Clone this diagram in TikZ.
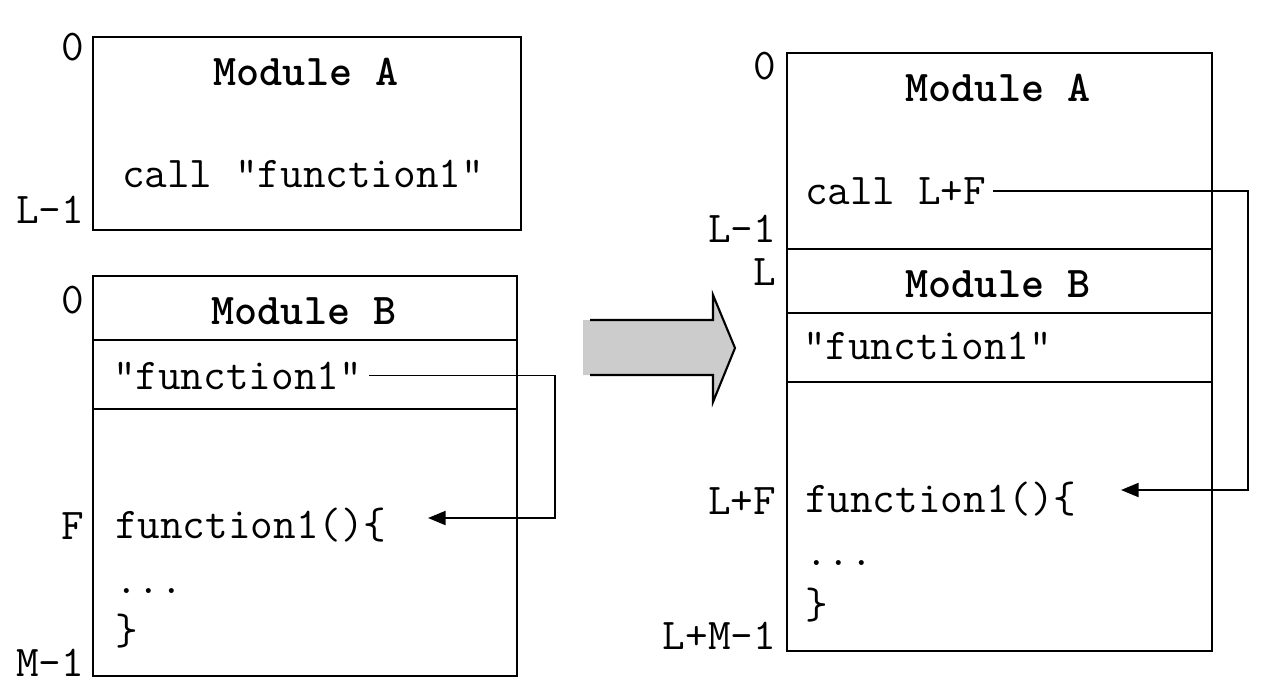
\documentclass[tikz,border=0pt]{standalone}
\usepackage{fontspec}
\usetikzlibrary{arrows.meta,fit}

\tikzset{
  membox/.style={draw, line width=1.2pt, inner sep=0pt},
  code/.style={font=\ttfamily\fontsize{25}{30}\selectfont, inner sep=1pt, anchor=base west},
  title/.style={code, anchor=base, font=\ttfamily\bfseries\fontsize{25}{30}\selectfont},
  addr/.style={code, anchor=base east},
  link/.style={line width=1pt, -{Triangle[length=10pt,width=8pt]}, shorten <=3pt},
}

\begin{document}
\begin{tikzpicture}[x=0.02cm, y=-0.02cm]
  \useasboundingbox (0,0) rectangle (1287,697);

  % Module A before linking
  \node[membox, fit={(93,37) (521,230)}] (boxA) {};
  \node[title] (titleA) at (306,85) {Module A};
  \node[code] (callA) at (120,187) {call “function1”};
  \node[addr] (zeroA) at (86,60) {0};
  \node[addr] (endA) at (86,223) {L–1};

  % Module B before linking
  \node[membox, fit={(93,276) (517,676)}] (boxB) {};
  \draw[line width=1.2pt] (93,340) -- (517,340);
  \draw[line width=1.2pt] (93,409) -- (517,409);
  \node[title] (titleB) at (304,324) {Module B};
  \node[code] (strB) at (111,389) {“function1”};
  \node[code] (funB) at (113,538) {function1()\{};
  \node[code] (dotsB) at (113,593) {...};
  \node[code] (closeB) at (113,644) {\}};
  \node[addr] (zeroB) at (86,313) {0};
  \node[addr] (offB) at (86,539) {F};
  \node[addr] (endB) at (86,676) {M–1};

  % symbol reference in B
  \coordinate (bendB) at (555,518);
  \coordinate (tipB) at (428,518);
  \draw[link] (strB.east) -| (bendB) |- (tipB);

  % Linking step
  \fill[black!20] (583,320) -- (713,320) -- (713,295) -- (735,348) -- (713,402) -- (713,375) -- (583,375) -- cycle;
  \draw[line width=1.2pt] (590,320) -- (713,320) -- (713,295) -- (735,348) -- (713,402) -- (713,375) -- (590,375);

  % Linked image
  \node[membox, fit={(787,53) (1212,651)}] (boxAB) {};
  \draw[line width=1.2pt] (787,249) -- (1212,249);
  \draw[line width=1.2pt] (787,313) -- (1212,313);
  \draw[line width=1.2pt] (787,382) -- (1212,382);
  \node[title] (titleAB) at (998,101) {Module A};
  \node[code] (callAB) at (803,204) {call L+F};
  \node[title] (titleBB) at (998,297) {Module B};
  \node[code] (strAB) at (801,359) {“function1”};
  \node[code] (funAB) at (803,512) {function1()\{};
  \node[code] (dotsAB) at (803,565) {...};
  \node[code] (closeAB) at (803,618) {\}};
  \node[addr] (zeroAB) at (778,79) {0};
  \node[addr] (endAAB) at (778,242) {L–1};
  \node[addr] (startBB) at (778,285) {L};
  \node[addr] (offAB) at (778,514) {L+F};
  \node[addr] (endAB) at (778,649) {L+M–1};

  % resolved call
  \coordinate (bendAB) at (1248,490);
  \coordinate (tipAB) at (1121,490);
  \draw[link] (callAB.east) -| (bendAB) |- (tipAB);
\end{tikzpicture}
\end{document}
